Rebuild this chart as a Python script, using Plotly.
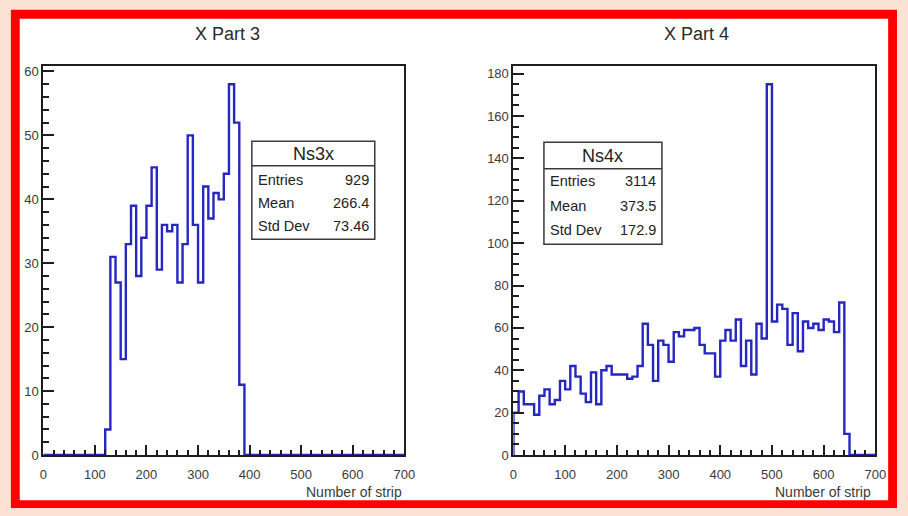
import numpy as np
import plotly.graph_objects as go

# ---------------- data ----------------
bin_width = 10
x_min, x_max = 0, 700

# Ns3x counts, bins of 10 starting at 0 (bins 0..39)
ns3x_counts = [0, 0, 0, 0, 0, 0, 0, 0, 0, 0,
               0, 0, 4, 31, 27, 15, 33, 39, 28, 34,
               39, 45, 29, 36, 35, 36, 27, 33, 50, 36,
               27, 42, 37, 41, 40, 44, 58, 52, 11, 0]

# Ns4x counts, bins of 10 starting at 0 (bins 0..64)
ns4x_counts = [20, 30, 24, 24, 19, 28, 31, 24, 26, 35,
               31, 42, 37, 29, 25, 39, 24, 40, 42, 38,
               38, 38, 36, 37, 42, 62, 52, 35, 54, 52,
               44, 58, 56, 59, 59, 60, 52, 48, 48, 37,
               54, 59, 54, 64, 42, 54, 38, 62, 55, 175,
               63, 71, 69, 52, 67, 49, 63, 60, 62, 59,
               64, 63, 58, 72, 10]

titles = ["X Part 3", "X Part 4"]
hist_names = ["Ns3x", "Ns4x"]
stat_labels = ["Entries", "Mean", "Std Dev"]
ns3x_stats = ["929", "266.4", "73.46"]
ns4x_stats = ["3114", "373.5", "172.9"]
x_title = "Number of strip"
x_ticks = [0, 100, 200, 300, 400, 500, 600, 700]

# ---------------- styling ----------------
W, H = 908, 516
FONT = "Liberation Sans, Arial, Helvetica, sans-serif"
TXT = "#3a3a3a"
FRAME = "#1e1e1e"
HIST = "#2626c0"


def px(x):
    return x / W


def py(y):
    return 1 - y / H


def step_xy(counts):
    counts = list(counts)
    n = len(counts)
    edges = x_min + bin_width * np.arange(n + 1)
    xs = [edges[0]] + list(edges[:n]) + [edges[n], edges[n]]
    ys = [0] + counts + [counts[-1], 0]
    if edges[n] < x_max:
        xs.append(x_max)
        ys.append(0)
    return xs, ys


fig = go.Figure()

panels = [
    dict(counts=ns3x_counts, stats=ns3x_stats, dom=[px(40), px(407)], ymax=max(ns3x_counts) * 1.05,
         ydt=10, ymdt=2, box=(252, 142, 377, 242, 167), rows=(182, 205, 228), title_x=227,
         xt_right=407),
    dict(counts=ns4x_counts, stats=ns4x_stats, dom=[px(518), px(886)], ymax=max(ns4x_counts) * 1.05,
         ydt=20, ymdt=5, box=(549, 143, 669, 247, 170), rows=(183, 208, 233), title_x=704,
         xt_right=884),
]

ydom = [py(462), py(65)]

shapes = [
    dict(type="rect", xref="paper", yref="paper", x0=px(7), x1=1.0, y0=0.0, y1=py(8),
         fillcolor="#ff0000", line_width=0, layer="below"),
    dict(type="rect", xref="paper", yref="paper", x0=px(16), x1=px(899), y0=py(508), y1=py(17),
         fillcolor="#ffffff", line_width=0, layer="below"),
]
annotations = []

for i, p in enumerate(panels):
    ax = "" if i == 0 else str(i + 1)
    xs, ys = step_xy(p["counts"])
    fig.add_trace(go.Scatter(x=xs, y=ys, mode="lines", line=dict(color=HIST, width=2.4, shape="hv"),
                             xaxis="x" + ax, yaxis="y" + ax, showlegend=False, hoverinfo="skip"))
    common = dict(showline=True, linecolor=FRAME, linewidth=2, mirror=True, showgrid=False,
                  zeroline=False, ticks="inside", tickcolor=FRAME, tickwidth=1.5,
                  tickfont=dict(family=FONT, size=13, color=TXT))
    fig.layout["xaxis" + ax] = dict(domain=p["dom"], range=[x_min, x_max], anchor="y" + ax,
                                    tickvals=x_ticks, ticklen=10, ticklabelstandoff=6,
                                    minor=dict(ticks="inside", dtick=20, ticklen=5, tickcolor=FRAME,
                                               tickwidth=1.5, showgrid=False),
                                    **common)
    fig.layout["yaxis" + ax] = dict(domain=ydom, range=[0, p["ymax"]], anchor="x" + ax,
                                    dtick=p["ydt"], ticklen=11,
                                    minor=dict(ticks="inside", dtick=p["ymdt"], ticklen=6, tickcolor=FRAME,
                                               tickwidth=1.5, showgrid=False),
                                    ticklabelstandoff=0,
                                    **common)
    # title
    annotations.append(dict(text=titles[i], x=px(p["title_x"]), y=py(33), xref="paper", yref="paper",
                            showarrow=False, xanchor="center", yanchor="middle",
                            font=dict(family=FONT, size=18, color="#2a2a2a")))
    # x-axis title
    annotations.append(dict(text=x_title, x=px(p["xt_right"]), y=py(500), xref="paper", yref="paper",
                            showarrow=False, xanchor="right", yanchor="middle",
                            font=dict(family=FONT, size=14, color=TXT)))
    # stats box
    bx0, by0, bx1, by1, bdiv = p["box"]
    shapes.append(dict(type="rect", xref="paper", yref="paper", x0=px(bx0), x1=px(bx1),
                       y0=py(by1), y1=py(by0), fillcolor="#ffffff", line=dict(color="#3a3a3a", width=1.5)))
    shapes.append(dict(type="line", xref="paper", yref="paper", x0=px(bx0), x1=px(bx1),
                       y0=py(bdiv), y1=py(bdiv), line=dict(color="#3a3a3a", width=1.5)))
    annotations.append(dict(text=hist_names[i], x=px((bx0 + bx1) / 2), y=py((by0 + bdiv) / 2 + 1),
                            xref="paper", yref="paper", showarrow=False, xanchor="center", yanchor="middle",
                            font=dict(family=FONT, size=18, color="#222222")))
    for lab, val, ry in zip(stat_labels, p["stats"], p["rows"]):
        annotations.append(dict(text=lab, x=px(bx0 + 4), y=py(ry), xref="paper", yref="paper",
                                showarrow=False, xanchor="left", yanchor="middle",
                                font=dict(family=FONT, size=14.5, color="#222222")))
        annotations.append(dict(text=val, x=px(bx1 - 4), y=py(ry), xref="paper", yref="paper",
                                showarrow=False, xanchor="right", yanchor="middle",
                                font=dict(family=FONT, size=14.5, color="#222222")))

fig.update_layout(width=W, height=H, margin=dict(l=0, r=0, t=0, b=0),
                  paper_bgcolor="#fbe2d5", plot_bgcolor="#ffffff",
                  shapes=shapes, annotations=annotations, showlegend=False)

fig.write_html("out.html")
